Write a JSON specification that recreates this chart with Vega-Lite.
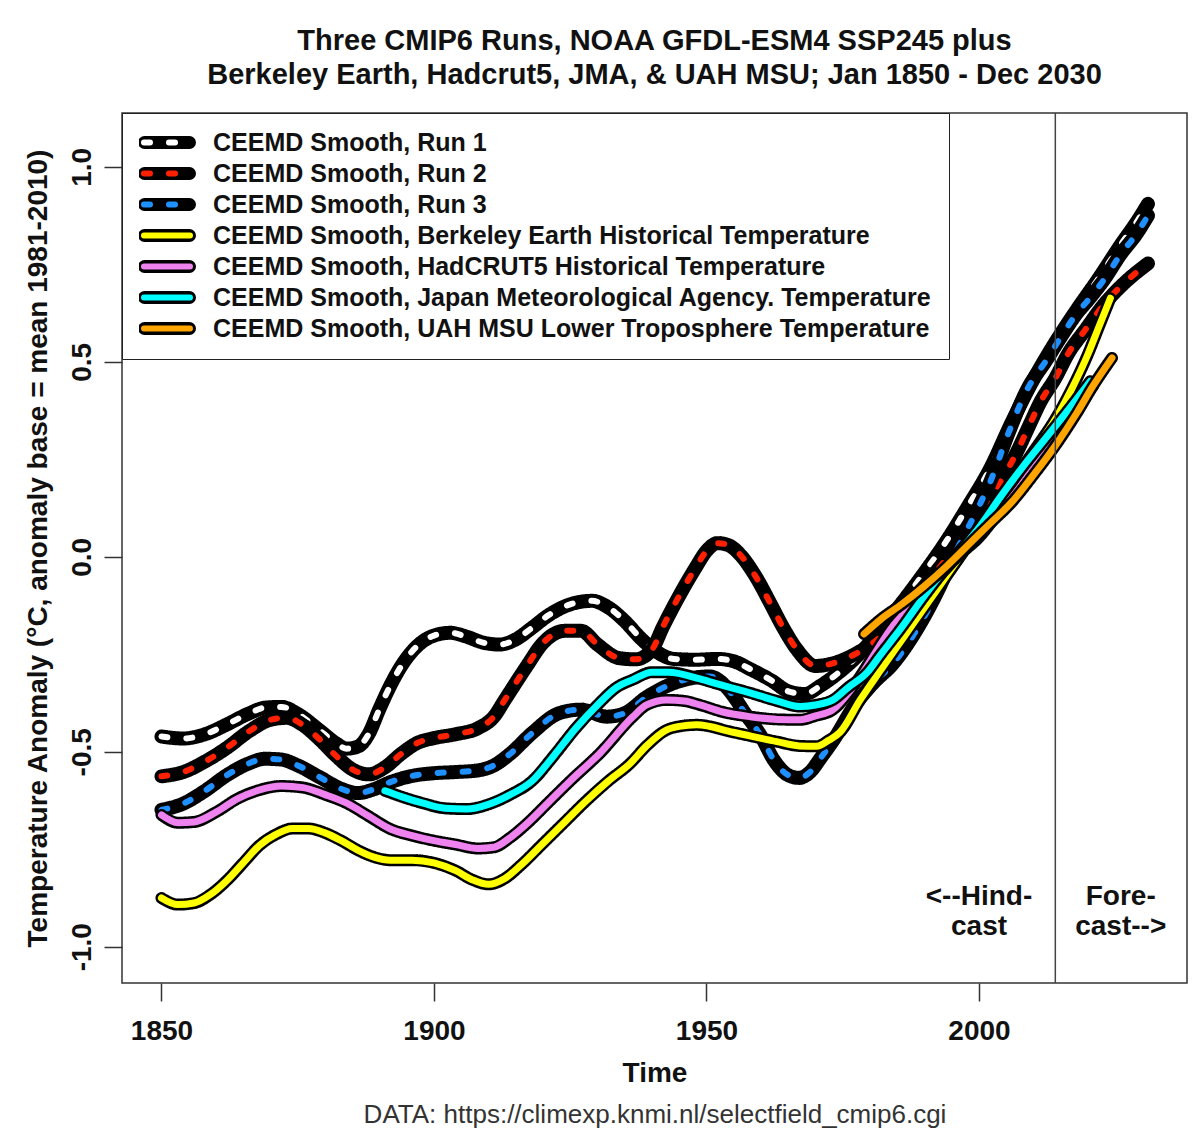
{
"$schema": "https://vega.github.io/schema/vega-lite/v6.json",
"width": 1065, "height": 870,
"autosize": {"type": "none"},
"padding": {"left": 122, "top": 113, "right": 16, "bottom": 155},
"background": "white",
"title": {"text": ["Three CMIP6 Runs, NOAA GFDL-ESM4 SSP245 plus", "Berkeley Earth, Hadcrut5, JMA, & UAH MSU; Jan 1850 - Dec 2030"], "fontSize": 29, "fontWeight": "bold", "font": "Liberation Sans", "lineHeight": 34, "offset": 22, "anchor": "middle", "color": "#111"},
"config": {
  "font": "Liberation Sans",
  "view": {"stroke": "#333", "strokeWidth": 1.5},
  "axis": {"grid": false, "domain": false, "tickColor": "#333", "tickWidth": 1.5, "tickSize": 18, "labelFont": "Liberation Sans", "labelFontSize": 28, "labelFontWeight": "bold", "labelColor": "#111", "titleFont": "Liberation Sans", "titleFontSize": 28, "titleFontWeight": "bold", "titleColor": "#111"}
},
"datasets": {
  "curves": [
{"s":"Run 1","year":1850,"value":-0.461},{"s":"Run 1","year":1854,"value":-0.466},{"s":"Run 1","year":1858,"value":-0.455},{"s":"Run 1","year":1862,"value":-0.43},{"s":"Run 1","year":1866,"value":-0.402},{"s":"Run 1","year":1869,"value":-0.387},{"s":"Run 1","year":1872,"value":-0.385},{"s":"Run 1","year":1875,"value":-0.403},{"s":"Run 1","year":1879,"value":-0.445},{"s":"Run 1","year":1882,"value":-0.478},{"s":"Run 1","year":1884,"value":-0.492},{"s":"Run 1","year":1886,"value":-0.487},{"s":"Run 1","year":1888,"value":-0.455},{"s":"Run 1","year":1890,"value":-0.39},{"s":"Run 1","year":1892,"value":-0.33},{"s":"Run 1","year":1894,"value":-0.28},{"s":"Run 1","year":1897,"value":-0.228},{"s":"Run 1","year":1900,"value":-0.202},{"s":"Run 1","year":1903,"value":-0.195},{"s":"Run 1","year":1906,"value":-0.205},{"s":"Run 1","year":1909,"value":-0.22},{"s":"Run 1","year":1912,"value":-0.225},{"s":"Run 1","year":1915,"value":-0.212},{"s":"Run 1","year":1918,"value":-0.182},{"s":"Run 1","year":1921,"value":-0.15},{"s":"Run 1","year":1925,"value":-0.122},{"s":"Run 1","year":1929,"value":-0.113},{"s":"Run 1","year":1932,"value":-0.13},{"s":"Run 1","year":1935,"value":-0.165},{"s":"Run 1","year":1938,"value":-0.21},{"s":"Run 1","year":1941,"value":-0.245},{"s":"Run 1","year":1944,"value":-0.262},{"s":"Run 1","year":1948,"value":-0.264},{"s":"Run 1","year":1952,"value":-0.262},{"s":"Run 1","year":1955,"value":-0.268},{"s":"Run 1","year":1958,"value":-0.288},{"s":"Run 1","year":1962,"value":-0.318},{"s":"Run 1","year":1965,"value":-0.345},{"s":"Run 1","year":1968,"value":-0.352},{"s":"Run 1","year":1971,"value":-0.33},{"s":"Run 1","year":1974,"value":-0.3},{"s":"Run 1","year":1978,"value":-0.25},{"s":"Run 1","year":1982,"value":-0.185},{"s":"Run 1","year":1986,"value":-0.115},{"s":"Run 1","year":1990,"value":-0.04},{"s":"Run 1","year":1994,"value":0.04},{"s":"Run 1","year":1998,"value":0.13},{"s":"Run 1","year":2002,"value":0.225},{"s":"Run 1","year":2006,"value":0.345},{"s":"Run 1","year":2010,"value":0.455},{"s":"Run 1","year":2014,"value":0.55},{"s":"Run 1","year":2018,"value":0.635},{"s":"Run 1","year":2022,"value":0.715},{"s":"Run 1","year":2026,"value":0.8},{"s":"Run 1","year":2029,"value":0.86},{"s":"Run 1","year":2031,"value":0.905},
{"s":"Run 2","year":1850,"value":-0.563},{"s":"Run 2","year":1854,"value":-0.552},{"s":"Run 2","year":1858,"value":-0.525},{"s":"Run 2","year":1862,"value":-0.49},{"s":"Run 2","year":1866,"value":-0.448},{"s":"Run 2","year":1870,"value":-0.418},{"s":"Run 2","year":1873,"value":-0.413},{"s":"Run 2","year":1876,"value":-0.432},{"s":"Run 2","year":1879,"value":-0.468},{"s":"Run 2","year":1882,"value":-0.51},{"s":"Run 2","year":1885,"value":-0.545},{"s":"Run 2","year":1888,"value":-0.558},{"s":"Run 2","year":1891,"value":-0.54},{"s":"Run 2","year":1894,"value":-0.505},{"s":"Run 2","year":1897,"value":-0.477},{"s":"Run 2","year":1900,"value":-0.465},{"s":"Run 2","year":1904,"value":-0.455},{"s":"Run 2","year":1908,"value":-0.44},{"s":"Run 2","year":1911,"value":-0.41},{"s":"Run 2","year":1913,"value":-0.367},{"s":"Run 2","year":1917,"value":-0.281},{"s":"Run 2","year":1920,"value":-0.221},{"s":"Run 2","year":1924,"value":-0.19},{"s":"Run 2","year":1927,"value":-0.19},{"s":"Run 2","year":1930,"value":-0.225},{"s":"Run 2","year":1934,"value":-0.26},{"s":"Run 2","year":1937,"value":-0.263},{"s":"Run 2","year":1940,"value":-0.238},{"s":"Run 2","year":1942,"value":-0.18},{"s":"Run 2","year":1945,"value":-0.1},{"s":"Run 2","year":1948,"value":-0.028},{"s":"Run 2","year":1950,"value":0.015},{"s":"Run 2","year":1952,"value":0.035},{"s":"Run 2","year":1954,"value":0.03},{"s":"Run 2","year":1956,"value":0.008},{"s":"Run 2","year":1959,"value":-0.05},{"s":"Run 2","year":1961.7,"value":-0.119},{"s":"Run 2","year":1964,"value":-0.18},{"s":"Run 2","year":1966.6,"value":-0.238},{"s":"Run 2","year":1970,"value":-0.28},{"s":"Run 2","year":1973,"value":-0.274},{"s":"Run 2","year":1977.6,"value":-0.247},{"s":"Run 2","year":1982,"value":-0.204},{"s":"Run 2","year":1986,"value":-0.14},{"s":"Run 2","year":1990,"value":-0.075},{"s":"Run 2","year":1994,"value":-0.005},{"s":"Run 2","year":1998,"value":0.07},{"s":"Run 2","year":2001,"value":0.13},{"s":"Run 2","year":2004.5,"value":0.206},{"s":"Run 2","year":2007,"value":0.27},{"s":"Run 2","year":2009,"value":0.33},{"s":"Run 2","year":2011.3,"value":0.398},{"s":"Run 2","year":2014,"value":0.458},{"s":"Run 2","year":2016.4,"value":0.522},{"s":"Run 2","year":2019.5,"value":0.582},{"s":"Run 2","year":2022.8,"value":0.645},{"s":"Run 2","year":2026.5,"value":0.7},{"s":"Run 2","year":2031,"value":0.752},
{"s":"Run 3","year":1850,"value":-0.649},{"s":"Run 3","year":1854,"value":-0.633},{"s":"Run 3","year":1858,"value":-0.6},{"s":"Run 3","year":1862,"value":-0.56},{"s":"Run 3","year":1866,"value":-0.53},{"s":"Run 3","year":1869,"value":-0.518},{"s":"Run 3","year":1872,"value":-0.52},{"s":"Run 3","year":1875,"value":-0.535},{"s":"Run 3","year":1879,"value":-0.565},{"s":"Run 3","year":1883,"value":-0.595},{"s":"Run 3","year":1886,"value":-0.606},{"s":"Run 3","year":1889,"value":-0.596},{"s":"Run 3","year":1892,"value":-0.578},{"s":"Run 3","year":1896,"value":-0.562},{"s":"Run 3","year":1900,"value":-0.555},{"s":"Run 3","year":1904,"value":-0.552},{"s":"Run 3","year":1908,"value":-0.548},{"s":"Run 3","year":1911,"value":-0.535},{"s":"Run 3","year":1914,"value":-0.505},{"s":"Run 3","year":1918,"value":-0.452},{"s":"Run 3","year":1923,"value":-0.401},{"s":"Run 3","year":1927,"value":-0.392},{"s":"Run 3","year":1931.7,"value":-0.41},{"s":"Run 3","year":1935,"value":-0.401},{"s":"Run 3","year":1939,"value":-0.36},{"s":"Run 3","year":1944,"value":-0.324},{"s":"Run 3","year":1950.6,"value":-0.307},{"s":"Run 3","year":1953,"value":-0.325},{"s":"Run 3","year":1955,"value":-0.358},{"s":"Run 3","year":1957,"value":-0.4},{"s":"Run 3","year":1960,"value":-0.46},{"s":"Run 3","year":1962.3,"value":-0.52},{"s":"Run 3","year":1965,"value":-0.56},{"s":"Run 3","year":1967,"value":-0.567},{"s":"Run 3","year":1969,"value":-0.552},{"s":"Run 3","year":1971,"value":-0.515},{"s":"Run 3","year":1973.3,"value":-0.47},{"s":"Run 3","year":1977,"value":-0.385},{"s":"Run 3","year":1980.6,"value":-0.324},{"s":"Run 3","year":1984.3,"value":-0.273},{"s":"Run 3","year":1988,"value":-0.2},{"s":"Run 3","year":1992,"value":-0.1},{"s":"Run 3","year":1996,"value":0.02},{"s":"Run 3","year":2000,"value":0.13},{"s":"Run 3","year":2002,"value":0.19},{"s":"Run 3","year":2005.4,"value":0.317},{"s":"Run 3","year":2008.8,"value":0.428},{"s":"Run 3","year":2012.4,"value":0.505},{"s":"Run 3","year":2015,"value":0.563},{"s":"Run 3","year":2018,"value":0.625},{"s":"Run 3","year":2020,"value":0.658},{"s":"Run 3","year":2023,"value":0.712},{"s":"Run 3","year":2026,"value":0.776},{"s":"Run 3","year":2029,"value":0.83},{"s":"Run 3","year":2031,"value":0.875},
{"s":"Berkeley Earth Historical Temperature","year":1850,"value":-0.875},{"s":"Berkeley Earth Historical Temperature","year":1853,"value":-0.892},{"s":"Berkeley Earth Historical Temperature","year":1856,"value":-0.888},{"s":"Berkeley Earth Historical Temperature","year":1859,"value":-0.866},{"s":"Berkeley Earth Historical Temperature","year":1862,"value":-0.83},{"s":"Berkeley Earth Historical Temperature","year":1865,"value":-0.785},{"s":"Berkeley Earth Historical Temperature","year":1868,"value":-0.74},{"s":"Berkeley Earth Historical Temperature","year":1871,"value":-0.712},{"s":"Berkeley Earth Historical Temperature","year":1874,"value":-0.697},{"s":"Berkeley Earth Historical Temperature","year":1877,"value":-0.697},{"s":"Berkeley Earth Historical Temperature","year":1880,"value":-0.708},{"s":"Berkeley Earth Historical Temperature","year":1883,"value":-0.728},{"s":"Berkeley Earth Historical Temperature","year":1886,"value":-0.752},{"s":"Berkeley Earth Historical Temperature","year":1889,"value":-0.77},{"s":"Berkeley Earth Historical Temperature","year":1892,"value":-0.778},{"s":"Berkeley Earth Historical Temperature","year":1896,"value":-0.778},{"s":"Berkeley Earth Historical Temperature","year":1900,"value":-0.785},{"s":"Berkeley Earth Historical Temperature","year":1904,"value":-0.805},{"s":"Berkeley Earth Historical Temperature","year":1907,"value":-0.828},{"s":"Berkeley Earth Historical Temperature","year":1910,"value":-0.84},{"s":"Berkeley Earth Historical Temperature","year":1913,"value":-0.825},{"s":"Berkeley Earth Historical Temperature","year":1916,"value":-0.79},{"s":"Berkeley Earth Historical Temperature","year":1920,"value":-0.735},{"s":"Berkeley Earth Historical Temperature","year":1924,"value":-0.68},{"s":"Berkeley Earth Historical Temperature","year":1928,"value":-0.625},{"s":"Berkeley Earth Historical Temperature","year":1932,"value":-0.575},{"s":"Berkeley Earth Historical Temperature","year":1936,"value":-0.53},{"s":"Berkeley Earth Historical Temperature","year":1939,"value":-0.485},{"s":"Berkeley Earth Historical Temperature","year":1942.7,"value":-0.444},{"s":"Berkeley Earth Historical Temperature","year":1945,"value":-0.435},{"s":"Berkeley Earth Historical Temperature","year":1948.2,"value":-0.431},{"s":"Berkeley Earth Historical Temperature","year":1954.9,"value":-0.45},{"s":"Berkeley Earth Historical Temperature","year":1962.9,"value":-0.474},{"s":"Berkeley Earth Historical Temperature","year":1967,"value":-0.485},{"s":"Berkeley Earth Historical Temperature","year":1970.2,"value":-0.486},{"s":"Berkeley Earth Historical Temperature","year":1972.5,"value":-0.47},{"s":"Berkeley Earth Historical Temperature","year":1974.5,"value":-0.45},{"s":"Berkeley Earth Historical Temperature","year":1978.2,"value":-0.367},{"s":"Berkeley Earth Historical Temperature","year":1982,"value":-0.29},{"s":"Berkeley Earth Historical Temperature","year":1986,"value":-0.21},{"s":"Berkeley Earth Historical Temperature","year":1990,"value":-0.13},{"s":"Berkeley Earth Historical Temperature","year":1994,"value":-0.05},{"s":"Berkeley Earth Historical Temperature","year":1998,"value":0.03},{"s":"Berkeley Earth Historical Temperature","year":2002,"value":0.11},{"s":"Berkeley Earth Historical Temperature","year":2006,"value":0.19},{"s":"Berkeley Earth Historical Temperature","year":2010,"value":0.27},{"s":"Berkeley Earth Historical Temperature","year":2014.3,"value":0.36},{"s":"Berkeley Earth Historical Temperature","year":2017,"value":0.43},{"s":"Berkeley Earth Historical Temperature","year":2020,"value":0.52},{"s":"Berkeley Earth Historical Temperature","year":2022,"value":0.59},{"s":"Berkeley Earth Historical Temperature","year":2024.1,"value":0.663},
{"s":"HadCRUT5 Historical Temperature","year":1850,"value":-0.662},{"s":"HadCRUT5 Historical Temperature","year":1853,"value":-0.682},{"s":"HadCRUT5 Historical Temperature","year":1856,"value":-0.68},{"s":"HadCRUT5 Historical Temperature","year":1860,"value":-0.655},{"s":"HadCRUT5 Historical Temperature","year":1864,"value":-0.62},{"s":"HadCRUT5 Historical Temperature","year":1868,"value":-0.598},{"s":"HadCRUT5 Historical Temperature","year":1872,"value":-0.588},{"s":"HadCRUT5 Historical Temperature","year":1876,"value":-0.592},{"s":"HadCRUT5 Historical Temperature","year":1880,"value":-0.61},{"s":"HadCRUT5 Historical Temperature","year":1884,"value":-0.632},{"s":"HadCRUT5 Historical Temperature","year":1888,"value":-0.665},{"s":"HadCRUT5 Historical Temperature","year":1892,"value":-0.698},{"s":"HadCRUT5 Historical Temperature","year":1896,"value":-0.715},{"s":"HadCRUT5 Historical Temperature","year":1900,"value":-0.728},{"s":"HadCRUT5 Historical Temperature","year":1904,"value":-0.738},{"s":"HadCRUT5 Historical Temperature","year":1908,"value":-0.748},{"s":"HadCRUT5 Historical Temperature","year":1911,"value":-0.745},{"s":"HadCRUT5 Historical Temperature","year":1914,"value":-0.72},{"s":"HadCRUT5 Historical Temperature","year":1917,"value":-0.685},{"s":"HadCRUT5 Historical Temperature","year":1921,"value":-0.63},{"s":"HadCRUT5 Historical Temperature","year":1925,"value":-0.575},{"s":"HadCRUT5 Historical Temperature","year":1930.5,"value":-0.503},{"s":"HadCRUT5 Historical Temperature","year":1936.5,"value":-0.41},{"s":"HadCRUT5 Historical Temperature","year":1939,"value":-0.38},{"s":"HadCRUT5 Historical Temperature","year":1942.7,"value":-0.367},{"s":"HadCRUT5 Historical Temperature","year":1946,"value":-0.37},{"s":"HadCRUT5 Historical Temperature","year":1948.8,"value":-0.38},{"s":"HadCRUT5 Historical Temperature","year":1953,"value":-0.398},{"s":"HadCRUT5 Historical Temperature","year":1958,"value":-0.41},{"s":"HadCRUT5 Historical Temperature","year":1963,"value":-0.417},{"s":"HadCRUT5 Historical Temperature","year":1967.2,"value":-0.418},{"s":"HadCRUT5 Historical Temperature","year":1970,"value":-0.408},{"s":"HadCRUT5 Historical Temperature","year":1973.2,"value":-0.392},{"s":"HadCRUT5 Historical Temperature","year":1976,"value":-0.35},{"s":"HadCRUT5 Historical Temperature","year":1978.2,"value":-0.307},{"s":"HadCRUT5 Historical Temperature","year":1981,"value":-0.245},{"s":"HadCRUT5 Historical Temperature","year":1983.7,"value":-0.187},{"s":"HadCRUT5 Historical Temperature","year":1988,"value":-0.12},{"s":"HadCRUT5 Historical Temperature","year":1992,"value":-0.06},{"s":"HadCRUT5 Historical Temperature","year":1996,"value":0.0},{"s":"HadCRUT5 Historical Temperature","year":2000,"value":0.05},{"s":"HadCRUT5 Historical Temperature","year":2004,"value":0.12},{"s":"HadCRUT5 Historical Temperature","year":2007,"value":0.17},{"s":"HadCRUT5 Historical Temperature","year":2010,"value":0.23},{"s":"HadCRUT5 Historical Temperature","year":2014,"value":0.31},{"s":"HadCRUT5 Historical Temperature","year":2018,"value":0.39},{"s":"HadCRUT5 Historical Temperature","year":2021,"value":0.44},
{"s":"Japan Meteorological Agency. Temperature","year":1891,"value":-0.6},{"s":"Japan Meteorological Agency. Temperature","year":1894,"value":-0.615},{"s":"Japan Meteorological Agency. Temperature","year":1898,"value":-0.632},{"s":"Japan Meteorological Agency. Temperature","year":1902,"value":-0.645},{"s":"Japan Meteorological Agency. Temperature","year":1906,"value":-0.647},{"s":"Japan Meteorological Agency. Temperature","year":1910,"value":-0.635},{"s":"Japan Meteorological Agency. Temperature","year":1914,"value":-0.61},{"s":"Japan Meteorological Agency. Temperature","year":1918,"value":-0.575},{"s":"Japan Meteorological Agency. Temperature","year":1922,"value":-0.51},{"s":"Japan Meteorological Agency. Temperature","year":1926,"value":-0.44},{"s":"Japan Meteorological Agency. Temperature","year":1930,"value":-0.38},{"s":"Japan Meteorological Agency. Temperature","year":1933.5,"value":-0.335},{"s":"Japan Meteorological Agency. Temperature","year":1936.5,"value":-0.315},{"s":"Japan Meteorological Agency. Temperature","year":1940,"value":-0.296},{"s":"Japan Meteorological Agency. Temperature","year":1943,"value":-0.296},{"s":"Japan Meteorological Agency. Temperature","year":1948.8,"value":-0.313},{"s":"Japan Meteorological Agency. Temperature","year":1953,"value":-0.33},{"s":"Japan Meteorological Agency. Temperature","year":1958,"value":-0.349},{"s":"Japan Meteorological Agency. Temperature","year":1963,"value":-0.37},{"s":"Japan Meteorological Agency. Temperature","year":1967.2,"value":-0.384},{"s":"Japan Meteorological Agency. Temperature","year":1970,"value":-0.38},{"s":"Japan Meteorological Agency. Temperature","year":1973.2,"value":-0.367},{"s":"Japan Meteorological Agency. Temperature","year":1976,"value":-0.335},{"s":"Japan Meteorological Agency. Temperature","year":1979.4,"value":-0.298},{"s":"Japan Meteorological Agency. Temperature","year":1982,"value":-0.25},{"s":"Japan Meteorological Agency. Temperature","year":1985.5,"value":-0.187},{"s":"Japan Meteorological Agency. Temperature","year":1990,"value":-0.1},{"s":"Japan Meteorological Agency. Temperature","year":1995,"value":-0.01},{"s":"Japan Meteorological Agency. Temperature","year":2000,"value":0.075},{"s":"Japan Meteorological Agency. Temperature","year":2004,"value":0.155},{"s":"Japan Meteorological Agency. Temperature","year":2008,"value":0.23},{"s":"Japan Meteorological Agency. Temperature","year":2012,"value":0.3},{"s":"Japan Meteorological Agency. Temperature","year":2016,"value":0.37},{"s":"Japan Meteorological Agency. Temperature","year":2020.4,"value":0.45},
{"s":"UAH MSU Lower Troposphere Temperature","year":1978.9,"value":-0.198},{"s":"UAH MSU Lower Troposphere Temperature","year":1982,"value":-0.16},{"s":"UAH MSU Lower Troposphere Temperature","year":1986,"value":-0.12},{"s":"UAH MSU Lower Troposphere Temperature","year":1990,"value":-0.075},{"s":"UAH MSU Lower Troposphere Temperature","year":1994,"value":-0.025},{"s":"UAH MSU Lower Troposphere Temperature","year":1998,"value":0.03},{"s":"UAH MSU Lower Troposphere Temperature","year":2002,"value":0.085},{"s":"UAH MSU Lower Troposphere Temperature","year":2006,"value":0.14},{"s":"UAH MSU Lower Troposphere Temperature","year":2010,"value":0.21},{"s":"UAH MSU Lower Troposphere Temperature","year":2014,"value":0.285},{"s":"UAH MSU Lower Troposphere Temperature","year":2018,"value":0.37},{"s":"UAH MSU Lower Troposphere Temperature","year":2021,"value":0.44},{"s":"UAH MSU Lower Troposphere Temperature","year":2024.4,"value":0.51}
  ],
  "divider": [{"year": 2014}],
  "notes": [
    {"year": 2000, "value": -0.892, "label": "<--Hind-"},
    {"year": 2000, "value": -0.969, "label": "cast"},
    {"year": 2026, "value": -0.892, "label": "Fore-"},
    {"year": 2026, "value": -0.969, "label": "cast-->"}
  ]
},
"resolve": {"scale": {"x": "independent"}, "axis": {"x": "independent"}},
"layer": [
  {
    "data": {"name": "curves"},
    "encoding": {
      "x": {"field": "year", "type": "quantitative", "scale": {"domain": [1842.76, 2038.16], "nice": false, "zero": false},
            "axis": {"values": [1850, 1900, 1950, 2000], "format": "d", "title": "Time", "labelPadding": 16, "titlePadding": 14}},
      "y": {"field": "value", "type": "quantitative", "scale": {"domain": [-1.093, 1.138], "nice": false, "zero": false},
            "axis": {"values": [-1, -0.5, 0, 0.5, 1], "labelExpr": "replace(format(datum.value, '.1f'), '\u2212', '-')", "labelAngle": -90, "labelAlign": "center", "labelBaseline": "bottom", "labelPadding": 8, "title": "Temperature Anomaly (°C, anomaly base = mean 1981-2010)", "titlePadding": 16}}
    },
    "layer": [
      {"transform": [{"filter": "datum.s === 'Run 1'"}],
       "mark": {"type": "line", "stroke": "black", "strokeWidth": 14, "interpolate": "monotone", "strokeCap": "round", "strokeJoin": "round"},
       "encoding": {"strokeDash": {"field": "s", "type": "nominal",
          "scale": {"domain": ["Run 1", "Run 2", "Run 3", "Berkeley Earth Historical Temperature", "HadCRUT5 Historical Temperature", "Japan Meteorological Agency. Temperature", "UAH MSU Lower Troposphere Temperature"], "range": [[1,0],[1,0],[1,0],[1,0],[1,0],[1,0],[1,0]]},
          "legend": {"orient": "top-left", "offset": 0, "title": null, "symbolType": "stroke", "symbolSize": 2025, "symbolStrokeWidth": 13, "symbolStrokeColor": "black", "symbolOffset": -1, "labelOffset": 17, "labelFontSize": 25, "labelFont": "Liberation Sans", "labelFontWeight": "bold", "labelOpacity": 0, "labelLimit": 0, "clipHeight": 25, "rowPadding": 5, "padding": 17, "fillColor": "white", "strokeColor": "#222", "labelExpr": "'CEEMD Smooth, ' + datum.label",
            "encode": {"symbols": {"update": {"strokeCap": {"value": "round"}, "stroke": {"value": "black"}}}}}}}},
      {"transform": [{"filter": "datum.s === 'Run 1'"}],
       "mark": {"type": "line", "strokeWidth": 6, "strokeDash": [6, 19], "interpolate": "monotone", "strokeCap": "round", "strokeJoin": "round"},
       "encoding": {"color": {"field": "s", "type": "nominal",
          "scale": {"domain": ["Run 1", "Run 2", "Run 3", "Berkeley Earth Historical Temperature", "HadCRUT5 Historical Temperature", "Japan Meteorological Agency. Temperature", "UAH MSU Lower Troposphere Temperature"], "range": ["#ffffff", "#ff2000", "#1e90ff", "#ffff00", "#ee82ee", "#00ffff", "#ffa500"]},
          "legend": {"orient": "none", "legendX": 0, "legendY": 0, "title": null, "symbolType": "stroke", "symbolSize": 2116, "symbolStrokeWidth": 6, "symbolOffset": 2, "labelOffset": 20, "labelFontSize": 25, "labelFont": "Liberation Sans", "labelFontWeight": "bold", "labelColor": "#111", "labelLimit": 0, "clipHeight": 25, "rowPadding": 5, "padding": 17, "labelExpr": "'CEEMD Smooth, ' + datum.label",
            "encode": {"symbols": {"update": {"strokeCap": {"value": "round"}, "strokeDash": [{"test": "indexof(datum.value, 'Run') === 0", "value": [6, 19]}, {"value": [1, 0]}]}}}}}}},
      {"transform": [{"filter": "datum.s === 'Run 2'"}],
       "mark": {"type": "line", "stroke": "black", "strokeWidth": 14, "interpolate": "monotone", "strokeCap": "round", "strokeJoin": "round"},
       "encoding": {"strokeDash": {"field": "s", "type": "nominal"}}},
      {"transform": [{"filter": "datum.s === 'Run 2'"}],
       "mark": {"type": "line", "strokeWidth": 6, "strokeDash": [6, 19], "interpolate": "monotone", "strokeCap": "round", "strokeJoin": "round"},
       "encoding": {"color": {"field": "s", "type": "nominal"}}},
      {"transform": [{"filter": "datum.s === 'Run 3'"}],
       "mark": {"type": "line", "stroke": "black", "strokeWidth": 14, "interpolate": "monotone", "strokeCap": "round", "strokeJoin": "round"},
       "encoding": {"strokeDash": {"field": "s", "type": "nominal"}}},
      {"transform": [{"filter": "datum.s === 'Run 3'"}],
       "mark": {"type": "line", "strokeWidth": 6, "strokeDash": [6, 19], "interpolate": "monotone", "strokeCap": "round", "strokeJoin": "round"},
       "encoding": {"color": {"field": "s", "type": "nominal"}}},
      {"transform": [{"filter": "datum.s === 'Berkeley Earth Historical Temperature'"}],
       "mark": {"type": "line", "stroke": "black", "strokeWidth": 12, "interpolate": "monotone", "strokeCap": "round", "strokeJoin": "round"},
       "encoding": {"strokeDash": {"field": "s", "type": "nominal"}}},
      {"transform": [{"filter": "datum.s === 'Berkeley Earth Historical Temperature'"}],
       "mark": {"type": "line", "strokeWidth": 7, "interpolate": "monotone", "strokeCap": "round", "strokeJoin": "round"},
       "encoding": {"color": {"field": "s", "type": "nominal"}}},
      {"transform": [{"filter": "datum.s === 'HadCRUT5 Historical Temperature'"}],
       "mark": {"type": "line", "stroke": "black", "strokeWidth": 12, "interpolate": "monotone", "strokeCap": "round", "strokeJoin": "round"},
       "encoding": {"strokeDash": {"field": "s", "type": "nominal"}}},
      {"transform": [{"filter": "datum.s === 'HadCRUT5 Historical Temperature'"}],
       "mark": {"type": "line", "strokeWidth": 7, "interpolate": "monotone", "strokeCap": "round", "strokeJoin": "round"},
       "encoding": {"color": {"field": "s", "type": "nominal"}}},
      {"transform": [{"filter": "datum.s === 'Japan Meteorological Agency. Temperature'"}],
       "mark": {"type": "line", "stroke": "black", "strokeWidth": 12, "interpolate": "monotone", "strokeCap": "round", "strokeJoin": "round"},
       "encoding": {"strokeDash": {"field": "s", "type": "nominal"}}},
      {"transform": [{"filter": "datum.s === 'Japan Meteorological Agency. Temperature'"}],
       "mark": {"type": "line", "strokeWidth": 7, "interpolate": "monotone", "strokeCap": "round", "strokeJoin": "round"},
       "encoding": {"color": {"field": "s", "type": "nominal"}}},
      {"transform": [{"filter": "datum.s === 'UAH MSU Lower Troposphere Temperature'"}],
       "mark": {"type": "line", "stroke": "black", "strokeWidth": 12, "interpolate": "monotone", "strokeCap": "round", "strokeJoin": "round"},
       "encoding": {"strokeDash": {"field": "s", "type": "nominal"}}},
      {"transform": [{"filter": "datum.s === 'UAH MSU Lower Troposphere Temperature'"}],
       "mark": {"type": "line", "strokeWidth": 7, "interpolate": "monotone", "strokeCap": "round", "strokeJoin": "round"},
       "encoding": {"color": {"field": "s", "type": "nominal"}}}
    ]
  },
  {
    "encoding": {
      "x": {"field": "year", "type": "quantitative", "scale": {"domain": [1842.76, 2038.16], "nice": false, "zero": false},
            "axis": {"orient": "bottom", "title": "DATA: https://climexp.knmi.nl/selectfield_cmip6.cgi", "labels": false, "ticks": false, "domain": false, "titleFontWeight": "normal", "titleFontSize": 26, "titleColor": "#333", "titlePadding": 118}}
    },
    "layer": [
      {"data": {"name": "divider"}, "mark": {"type": "rule", "stroke": "#444", "strokeWidth": 1.5}, "encoding": {}},
      {"data": {"name": "notes"},
       "mark": {"type": "text", "fontSize": 28, "fontWeight": "bold", "font": "Liberation Sans", "color": "#111", "align": "center", "baseline": "alphabetic"},
       "encoding": {
         "y": {"field": "value", "type": "quantitative", "scale": {"domain": [-1.093, 1.138], "nice": false, "zero": false},
               "axis": {"values": [-1, -0.5, 0, 0.5, 1], "labelExpr": "replace(format(datum.value, '.1f'), '\u2212', '-')", "labelAngle": -90, "labelAlign": "center", "labelBaseline": "bottom", "labelPadding": 8, "title": "Temperature Anomaly (°C, anomaly base = mean 1981-2010)", "titlePadding": 16}},
         "text": {"field": "label"}}}
    ]
  }
]
}
